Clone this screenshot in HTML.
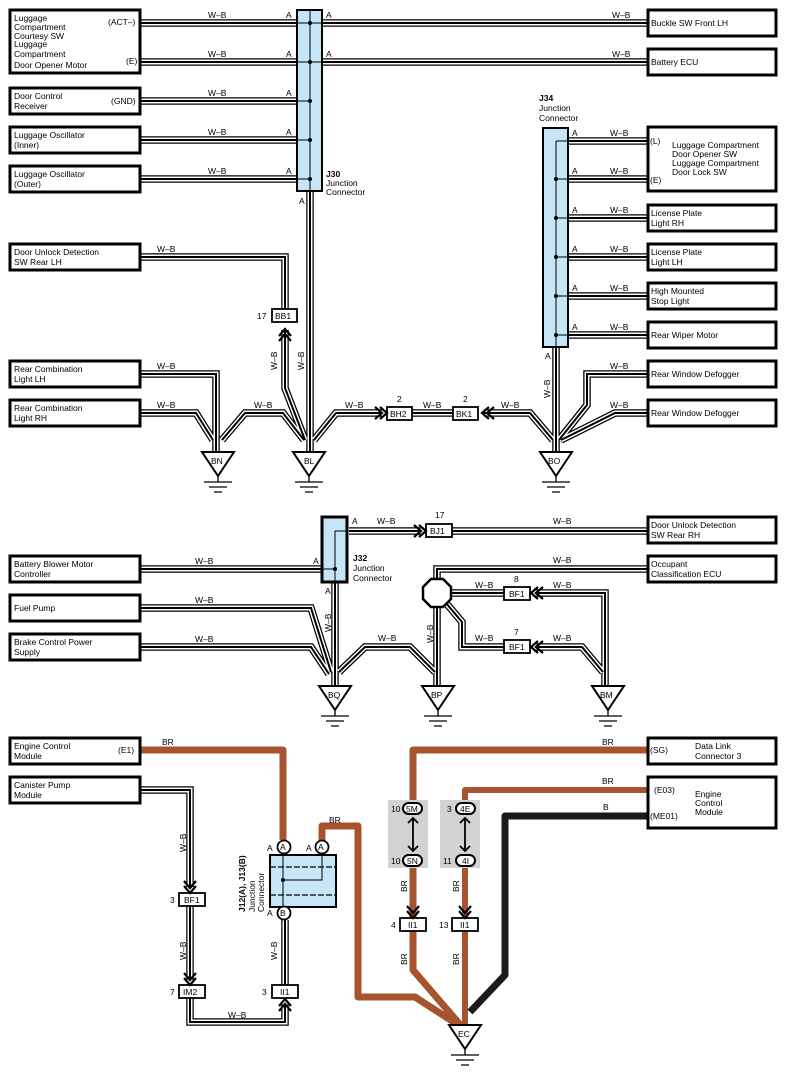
<!DOCTYPE html>
<html><head><meta charset="utf-8"><style>
html,body{margin:0;padding:0;background:#fff;}
svg{display:block;font-family:"Liberation Sans",sans-serif;}
text{font-size:8.5px;fill:#000;}
.b{fill:#fff;stroke:#000;stroke-width:3;}
.c{fill:#fff;stroke:#000;stroke-width:1.8;}
</style></head><body>
<svg width="788" height="1077" viewBox="0 0 788 1077" xmlns="http://www.w3.org/2000/svg">
<defs>
<g id="wb" fill="none" stroke-linejoin="miter">
<path d="M140,23 H648 M140,62 H648 M140,101 H310 M140,140 H310 M140,179 H310 M310,190 V452"/>
<path d="M140,257 H285 V309 M285,330 V388 L305,440"/>
<path d="M140,374 H216 V452 M140,413 H196 L213,440 M222,440 L245,413 H283 L304,440"/>
<path d="M314,440 L336,413 H382 M412,413 H452 M484,413 H530 L553,440"/>
<path d="M568,141 H648 M568,179 H648 M568,218 H648 M568,257 H648 M568,296 H648 M568,335 H648 M556,346 V452"/>
<path d="M648,374 H587 V405 L559,440 M648,413 H615 L561,440"/>
<path d="M349,531 H421 M452,531 H648 M140,569 H322 M335,582 V686"/>
<path d="M140,608 H311 L331,672 M140,647 H311 L329,674 M339,672 L365,647 H410 L435,672"/>
<path d="M437,580 V569 H648 M451,593 H504 M535,593 H605 V686 M446,603 L462,622 V647 H504 M535,647 H582 L603,672 M437,607 V686"/>
<path d="M140,790 H190 V887 M190,906 V980 M190,998 V1022 H285 V1004 M285,985 V920"/>
</g>
<g id="ch" fill="none" stroke="#000" stroke-width="2.2"><path d="M-10,-6 L-3,0 L-10,6 M-5,-6 L2,0 L-5,6"/></g>
<g id="gnd" fill="#fff" stroke="#000"><path d="M-16,0 H16 L0,24 Z" stroke-width="2"/><path d="M0,24 V30 M-14,30 H14 M-9,35 H9 M-4,40 H4" stroke-width="1.3"/></g>
</defs>

<g fill="none" stroke-linejoin="round">
<path d="M140,750 H283 V840 M322,840 V826 H358 V997 H415 L463,1028 M648,750 H413 V806 M413,862 V918 M413,931 V970 L463,1028" stroke="#a8532f" stroke-width="7"/>
<path d="M648,790 H465 V806 M465,862 V918 M465,931 V1028" stroke="#a8532f" stroke-width="6"/>
<path d="M648,816 H505 V975 L470,1012" stroke="#1a1a1a" stroke-width="7"/>
</g>

<use href="#wb" stroke="#000" stroke-width="7.5"/>
<use href="#wb" stroke="#fff" stroke-width="5"/>
<use href="#wb" stroke="#000" stroke-width="2"/>

<rect class="b" x="10" y="10" width="130" height="63"/>
<text x="14" y="21">Luggage</text><text x="14" y="30">Compartment</text><text x="14" y="39">Courtesy SW</text><text x="14" y="47">Luggage</text><text x="14" y="57">Compartment</text><text x="14" y="68">Door Opener Motor</text>
<text x="108" y="25">(ACT–)</text><text x="126" y="64">(E)</text>
<rect class="b" x="10" y="88" width="130" height="26"/><text x="14" y="99">Door Control</text><text x="14" y="109">Receiver</text><text x="111" y="104">(GND)</text>
<rect class="b" x="10" y="127" width="130" height="26"/><text x="14" y="138">Luggage Oscillator</text><text x="14" y="148">(Inner)</text>
<rect class="b" x="10" y="166" width="130" height="26"/><text x="14" y="177">Luggage Oscillator</text><text x="14" y="187">(Outer)</text>
<rect class="b" x="10" y="244" width="130" height="26"/><text x="14" y="255">Door Unlock Detection</text><text x="14" y="265">SW Rear LH</text>
<rect class="b" x="10" y="361" width="130" height="26"/><text x="14" y="372">Rear Combination</text><text x="14" y="382">Light LH</text>
<rect class="b" x="10" y="400" width="130" height="26"/><text x="14" y="411">Rear Combination</text><text x="14" y="421">Light RH</text>
<rect class="b" x="10" y="556" width="130" height="26"/><text x="14" y="567">Battery Blower Motor</text><text x="14" y="577">Controller</text>
<rect class="b" x="10" y="595" width="130" height="26"/><text x="14" y="611">Fuel Pump</text>
<rect class="b" x="10" y="634" width="130" height="26"/><text x="14" y="645">Brake Control Power</text><text x="14" y="655">Supply</text>
<rect class="b" x="10" y="738" width="130" height="26"/><text x="14" y="749">Engine Control</text><text x="14" y="759">Module</text><text x="118" y="753">(E1)</text>
<rect class="b" x="10" y="777" width="130" height="26"/><text x="14" y="788">Canister Pump</text><text x="14" y="798">Module</text>

<rect class="b" x="648" y="10" width="128" height="26"/><text x="651" y="26">Buckle SW Front LH</text>
<rect class="b" x="648" y="49" width="128" height="26"/><text x="651" y="65">Battery ECU</text>
<rect class="b" x="648" y="127" width="128" height="64"/><text x="650" y="144">(L)</text><text x="650" y="183">(E)</text>
<text x="672" y="148">Luggage Compartment</text><text x="672" y="157">Door Opener SW</text><text x="672" y="166">Luggage Compartment</text><text x="672" y="175">Door Lock SW</text>
<rect class="b" x="648" y="205" width="128" height="26"/><text x="651" y="216">License Plate</text><text x="651" y="226">Light RH</text>
<rect class="b" x="648" y="244" width="128" height="26"/><text x="651" y="255">License Plate</text><text x="651" y="265">Light LH</text>
<rect class="b" x="648" y="283" width="128" height="26"/><text x="651" y="294">High Mounted</text><text x="651" y="304">Stop Light</text>
<rect class="b" x="648" y="322" width="128" height="26"/><text x="651" y="338">Rear Wiper Motor</text>
<rect class="b" x="648" y="361" width="128" height="26"/><text x="651" y="377">Rear Window Defogger</text>
<rect class="b" x="648" y="400" width="128" height="26"/><text x="651" y="416">Rear Window Defogger</text>
<rect class="b" x="648" y="517" width="128" height="26"/><text x="651" y="528">Door Unlock Detection</text><text x="651" y="538">SW Rear RH</text>
<rect class="b" x="648" y="556" width="128" height="26"/><text x="651" y="567">Occupant</text><text x="651" y="577">Classification ECU</text>
<rect class="b" x="648" y="738" width="128" height="26"/><text x="650" y="753">(SG)</text><text x="695" y="749">Data Link</text><text x="695" y="759">Connector 3</text>
<rect class="b" x="648" y="777" width="128" height="51"/><text x="654" y="793">(E03)</text><text x="650" y="819">(ME01)</text><text x="695" y="797">Engine</text><text x="695" y="806">Control</text><text x="695" y="815">Module</text>

<rect x="297" y="10" width="25" height="181" fill="#c6e6f8" stroke="#000" stroke-width="2"/>
<path d="M310,10 V191 M297,23 H322 M297,62 H322 M297,101 H310 M297,140 H310 M297,179 H310" stroke="#000" stroke-width="1"/>
<g fill="#000"><circle cx="310" cy="23" r="2"/><circle cx="310" cy="62" r="2"/><circle cx="310" cy="101" r="2"/><circle cx="310" cy="140" r="2"/><circle cx="310" cy="179" r="2"/></g>
<text x="326" y="177" font-weight="bold">J30</text><text x="326" y="186">Junction</text><text x="326" y="195">Connector</text>
<g><text x="286" y="18">A</text><text x="326" y="18">A</text><text x="286" y="57">A</text><text x="326" y="57">A</text><text x="286" y="96">A</text><text x="286" y="135">A</text><text x="286" y="174">A</text><text x="299" y="204">A</text></g>

<rect x="543" y="128" width="25" height="219" fill="#c6e6f8" stroke="#000" stroke-width="2"/>
<path d="M556,141 V347 M556,141 H568 M556,179 H568 M556,218 H568 M556,257 H568 M556,296 H568 M556,335 H568" stroke="#000" stroke-width="1"/>
<g fill="#000"><circle cx="556" cy="179" r="2"/><circle cx="556" cy="218" r="2"/><circle cx="556" cy="257" r="2"/><circle cx="556" cy="296" r="2"/><circle cx="556" cy="335" r="2"/></g>
<text x="539" y="101" font-weight="bold">J34</text><text x="539" y="111">Junction</text><text x="539" y="121">Connector</text>
<g><text x="572" y="136">A</text><text x="572" y="174">A</text><text x="572" y="213">A</text><text x="572" y="252">A</text><text x="572" y="291">A</text><text x="572" y="330">A</text><text x="545" y="359">A</text></g>

<rect x="322" y="517" width="25" height="65" fill="#c6e6f8" stroke="#000" stroke-width="3"/>
<path d="M335,531 H347 M335,531 V582 M322,569 H335" stroke="#000" stroke-width="1"/>
<circle cx="335" cy="569" r="2" fill="#000"/>
<text x="352" y="524">A</text><text x="313" y="564">A</text><text x="325" y="594">A</text>
<text x="353" y="561" font-weight="bold">J32</text><text x="353" y="571">Junction</text><text x="353" y="581">Connector</text>

<g>
<text x="208" y="18">W–B</text><text x="208" y="57">W–B</text><text x="208" y="96">W–B</text><text x="208" y="135">W–B</text><text x="208" y="174">W–B</text>
<text x="612" y="18">W–B</text><text x="612" y="57">W–B</text>
<text x="610" y="136">W–B</text><text x="610" y="174">W–B</text><text x="610" y="213">W–B</text><text x="610" y="252">W–B</text><text x="610" y="291">W–B</text><text x="610" y="330">W–B</text><text x="610" y="369">W–B</text><text x="610" y="408">W–B</text>
<text x="157" y="252">W–B</text><text x="157" y="369">W–B</text><text x="157" y="408">W–B</text><text x="254" y="408">W–B</text><text x="345" y="408">W–B</text><text x="423" y="408">W–B</text><text x="501" y="408">W–B</text>
<text x="377" y="524">W–B</text><text x="553" y="524">W–B</text><text x="195" y="564">W–B</text><text x="195" y="603">W–B</text><text x="195" y="642">W–B</text><text x="553" y="563">W–B</text>
<text x="475" y="588">W–B</text><text x="553" y="588">W–B</text><text x="475" y="641">W–B</text><text x="553" y="641">W–B</text><text x="378" y="641">W–B</text>
<text x="228" y="1018">W–B</text>
<text x="162" y="745">BR</text><text x="602" y="745">BR</text><text x="602" y="784">BR</text><text x="603" y="810">B</text><text x="329" y="823">BR</text>
</g>
<g>
<text transform="translate(277,370) rotate(-90)">W–B</text>
<text transform="translate(304,370) rotate(-90)">W–B</text>
<text transform="translate(550,398) rotate(-90)">W–B</text>
<text transform="translate(331,632) rotate(-90)">W–B</text>
<text transform="translate(433,643) rotate(-90)">W–B</text>
<text transform="translate(186,852) rotate(-90)">W–B</text>
<text transform="translate(186,960) rotate(-90)">W–B</text>
<text transform="translate(277,960) rotate(-90)">W–B</text>
<text transform="translate(407,892) rotate(-90)">BR</text>
<text transform="translate(459,892) rotate(-90)">BR</text>
<text transform="translate(407,965) rotate(-90)">BR</text>
<text transform="translate(459,965) rotate(-90)">BR</text>
</g>

<rect class="c" x="272" y="309" width="25" height="13"/><text x="275" y="319">BB1</text><text x="257" y="319">17</text>
<rect class="c" x="387" y="407" width="25" height="13"/><text x="390" y="417">BH2</text><text x="397" y="402">2</text>
<rect class="c" x="453" y="407" width="25" height="13"/><text x="456" y="417">BK1</text><text x="463" y="402">2</text>
<rect class="c" x="426" y="524" width="26" height="13"/><text x="430" y="534">BJ1</text><text x="435" y="518">17</text>
<rect class="c" x="504" y="587" width="26" height="13"/><text x="509" y="597">BF1</text><text x="514" y="582">8</text>
<rect class="c" x="504" y="640" width="26" height="13"/><text x="509" y="650">BF1</text><text x="514" y="635">7</text>
<rect class="c" x="179" y="893" width="26" height="13"/><text x="184" y="903">BF1</text><text x="170" y="903">3</text>
<rect class="c" x="179" y="985" width="26" height="13"/><text x="183" y="995">IM2</text><text x="170" y="995">7</text>
<rect class="c" x="272" y="985" width="26" height="13"/><text x="280" y="995">II1</text><text x="262" y="995">3</text>
<rect class="c" x="400" y="918" width="26" height="13"/><text x="408" y="928">II1</text><text x="391" y="928">4</text>
<rect class="c" x="452" y="918" width="26" height="13"/><text x="460" y="928">II1</text><text x="439" y="928">13</text>

<use href="#ch" transform="translate(285,331) rotate(-90)"/>
<use href="#ch" transform="translate(385,413)"/>
<use href="#ch" transform="translate(484,413) rotate(180)"/>
<use href="#ch" transform="translate(424,531)"/>
<use href="#ch" transform="translate(533,593) rotate(180)"/>
<use href="#ch" transform="translate(533,647) rotate(180)"/>
<use href="#ch" transform="translate(190,891) rotate(90)"/>
<use href="#ch" transform="translate(190,983) rotate(90)"/>
<use href="#ch" transform="translate(285,1001) rotate(-90)"/>
<use href="#ch" transform="translate(413,916) rotate(90)"/>
<use href="#ch" transform="translate(465,916) rotate(90)"/>

<polygon points="431,579 443,579 451,587 451,599 443,607 431,607 423,599 423,587" fill="#fff" stroke="#000" stroke-width="2.5"/>

<use href="#gnd" transform="translate(218,452)"/><text x="211" y="464">BN</text>
<use href="#gnd" transform="translate(309,452)"/><text x="304" y="464">BL</text>
<use href="#gnd" transform="translate(556,452)"/><text x="548" y="464">BO</text>
<use href="#gnd" transform="translate(335,686)"/><text x="328" y="698">BQ</text>
<use href="#gnd" transform="translate(438,686)"/><text x="431" y="698">BP</text>
<use href="#gnd" transform="translate(608,686)"/><text x="600" y="698">BM</text>
<use href="#gnd" transform="translate(465,1025)"/><text x="458" y="1037">EC</text>

<rect x="270" y="855" width="66" height="52" fill="#c6e6f8" stroke="#000" stroke-width="2"/>
<path d="M270,867 H336 M270,895 H336" stroke="#000" stroke-width="1.2" stroke-dasharray="6,2"/>
<path d="M283,847 V912 M283,880 H322 V847" stroke="#000" stroke-width="1" fill="none"/>
<circle cx="283" cy="880" r="2" fill="#000"/>
<g fill="#fff" stroke="#000" stroke-width="1.8"><circle cx="284" cy="847" r="6.5"/><circle cx="322" cy="847" r="6.5"/><circle cx="284" cy="913" r="6.5"/></g>
<text x="280" y="850">A</text><text x="318" y="850">A</text><text x="280" y="916">B</text>
<text x="267" y="851">A</text><text x="306" y="851">A</text><text x="267" y="916">A</text>
<text transform="translate(245,912) rotate(-90)" font-weight="bold">J12(A), J13(B)</text>
<text transform="translate(255,912) rotate(-90)">Junction</text>
<text transform="translate(264,912) rotate(-90)">Connector</text>

<rect x="388" y="800" width="40" height="68" fill="#d2d2d2"/>
<rect x="440" y="800" width="40" height="68" fill="#d2d2d2"/>
<g fill="#fff" stroke="#000" stroke-width="2"><rect x="403" y="803" width="19" height="11" rx="5.5"/><rect x="403" y="855" width="19" height="11" rx="5.5"/><rect x="456" y="803" width="19" height="11" rx="5.5"/><rect x="456" y="855" width="19" height="11" rx="5.5"/></g>
<text x="406" y="812">5M</text><text x="407" y="864">5N</text><text x="460" y="812">4E</text><text x="462" y="864">4I</text>
<text x="391" y="812">10</text><text x="391" y="864">10</text><text x="447" y="812">3</text><text x="443" y="864">11</text>
<g fill="none" stroke="#000" stroke-width="1.8"><path d="M413,818 V851 M408,823 L413,818 L418,823 M408,846 L413,851 L418,846 M465,818 V851 M460,823 L465,818 L470,823 M460,846 L465,851 L470,846"/></g>
</svg>
</body></html>
